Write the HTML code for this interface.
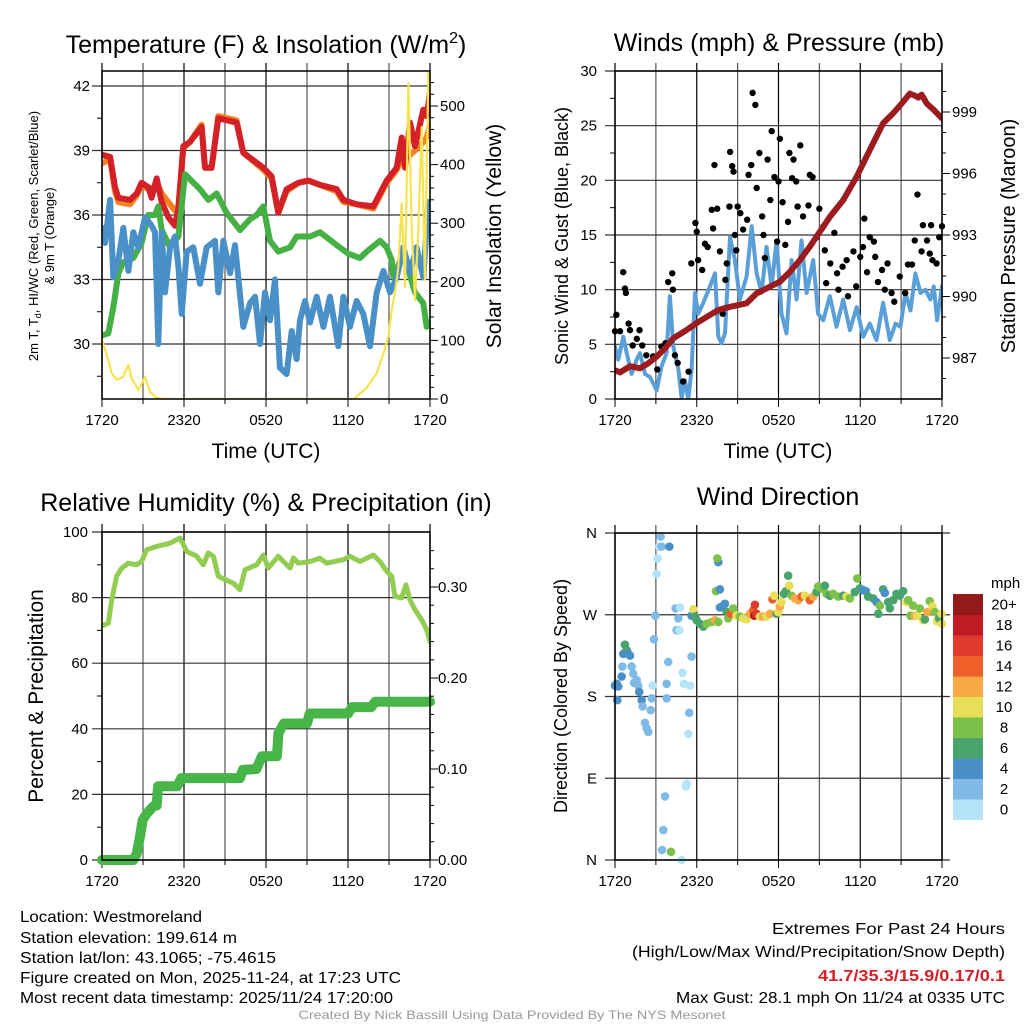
<!DOCTYPE html>
<html><head><meta charset="utf-8"><style>
html,body{margin:0;padding:0;background:#fff;}
svg{display:block;font-family:"Liberation Sans",sans-serif;}
.narrow{font-family:"Liberation Sans Narrow","Liberation Sans",sans-serif;}
</style></head><body>
<svg id="c" width="1024" height="1024" viewBox="0 0 1024 1024" xmlns="http://www.w3.org/2000/svg">
<rect width="1024" height="1024" fill="#fff"/>
<g id="layer"></g>
<!-- titles -->
<text x="266" y="53" font-size="25" text-anchor="middle">Temperature (F) &amp; Insolation (W/m<tspan font-size="16" dy="-10">2</tspan><tspan dy="10">)</tspan></text>
<text x="779" y="51" font-size="25" text-anchor="middle">Winds (mph) &amp; Pressure (mb)</text>
<text x="266" y="511" font-size="25" text-anchor="middle">Relative Humidity (%) &amp; Precipitation (in)</text>
<text x="778" y="505" font-size="25" text-anchor="middle">Wind Direction</text>
<!-- axis titles -->
<text transform="translate(38,236) rotate(-90)" font-size="13" text-anchor="middle">2m T, T<tspan font-size="9" dy="3">d</tspan><tspan dy="-3">, HI/WC (Red, Green, Scarlet/Blue)</tspan></text>
<text transform="translate(54,236) rotate(-90)" font-size="13" text-anchor="middle">&amp; 9m T (Orange)</text>
<text transform="translate(501,236) rotate(-90)" font-size="21" text-anchor="middle">Solar Insolation (Yellow)</text>
<text transform="translate(568,236) rotate(-90)" font-size="18" text-anchor="middle">Sonic Wind &amp; Gust (Blue, Black)</text>
<text transform="translate(1015,236) rotate(-90)" font-size="20" text-anchor="middle">Station Pressure (Maroon)</text>
<text transform="translate(43,696) rotate(-90)" font-size="21" text-anchor="middle">Percent &amp; Precipitation</text>
<text transform="translate(567,696) rotate(-90)" font-size="18" text-anchor="middle">Direction (Colored By Speed)</text>
<text x="266" y="458" font-size="21" text-anchor="middle">Time (UTC)</text>
<text x="778" y="458" font-size="21" text-anchor="middle">Time (UTC)</text>
<text x="991" y="588" font-size="15">mph</text>
<!-- footer -->
<g font-size="16" class="narrow">
<text x="20" y="922" textLength="182" lengthAdjust="spacingAndGlyphs">Location: Westmoreland</text>
<text x="20" y="943" textLength="217" lengthAdjust="spacingAndGlyphs">Station elevation: 199.614 m</text>
<text x="20" y="963" textLength="256" lengthAdjust="spacingAndGlyphs">Station lat/lon: 43.1065; -75.4615</text>
<text x="20" y="983" textLength="381" lengthAdjust="spacingAndGlyphs">Figure created on Mon, 2025-11-24, at 17:23 UTC</text>
<text x="20" y="1003" textLength="373" lengthAdjust="spacingAndGlyphs">Most recent data timestamp: 2025/11/24 17:20:00</text>
</g>
<g font-size="16" class="narrow" text-anchor="end">
<text x="1024" y="934" dx="-19" textLength="233" lengthAdjust="spacingAndGlyphs">Extremes For Past 24 Hours</text>
<text x="1024" y="957" dx="-19" textLength="373" lengthAdjust="spacingAndGlyphs">(High/Low/Max Wind/Precipitation/Snow Depth)</text>
<text x="1024" y="981" dx="-19" fill="#d62027" font-weight="bold" textLength="187" lengthAdjust="spacingAndGlyphs">41.7/35.3/15.9/0.17/0.1</text>
<text x="1024" y="1003" dx="-19" textLength="329" lengthAdjust="spacingAndGlyphs">Max Gust: 28.1 mph On 11/24 at 0335 UTC</text>
</g>
<text x="512" y="1019" font-size="12" class="narrow" fill="#999" text-anchor="middle" textLength="427" lengthAdjust="spacingAndGlyphs">Created By Nick Bassill Using Data Provided By The NYS Mesonet</text>
</svg>
<script>
// ---- Time axis ----
const timeTicks = ["1720","2320","0520","1120","1720"];
const tempTicks = [30,33,36,39,42];
const solarTicks = [0,100,200,300,400,500];
const windTicks = [0,5,10,15,20,25,30];
const presTicks = [987,990,993,996,999];
const rhTicks = [0,20,40,60,80,100];
const precipTicks = ["0.00","0.10","0.20","0.30"];
const dirTicks = ["N","E","S","W","N"];
// ---- Temperature panel ----
const tRed = [0,0.59,0.95,1.2,2.05,2.54,2.9,3.39,3.63,4.0,4.37,4.85,5.34,5.59,5.95,6.44,7.29,7.54,8.02,8.51,9.85,10.34,11.8,12.41,12.9,13.51,14.37,15.1,15.95,17.17,17.66,18.63,19.85,20.83,21.56,21.93,22.17,22.54,22.9,23.51,23.76,24];
const red = [38.8,38.7,37.3,36.8,36.7,37.0,37.5,37.3,36.8,37.7,36.6,35.9,35.5,36.3,39.2,39.4,40.1,38.2,38.2,40.5,40.3,38.9,38.2,37.8,36.1,37.2,37.5,37.6,37.4,37.2,36.7,36.5,36.4,37.6,38.2,39.6,38.2,40.3,39.2,40.9,40.6,41.7];
const orange = [38.4,38.6,37.1,36.6,36.5,36.9,37.4,37.2,37.2,37.5,37.0,36.6,36.2,36.4,39.1,39.4,40.2,38.2,38.2,40.6,40.4,38.9,38.1,37.7,36.1,37.1,37.5,37.6,37.4,37.1,36.6,36.5,36.3,37.5,38.1,38.6,38.6,38.8,39.0,39.4,39.6,40.2];
const tGreen = [0,0.46,0.83,1.2,1.56,2.29,2.9,3.39,3.88,4.12,4.37,4.98,5.59,6.07,7.17,7.78,8.39,9.12,10.1,10.83,11.32,11.8,12.29,12.9,13.76,14.24,15.22,15.95,17.17,18.02,18.88,19.37,20.34,20.83,21.2,21.32,22.05,22.9,23.51,23.76,24];
const green = [30.4,30.5,31.7,33.3,33.8,34.0,34.7,36.0,36.0,36.4,35.3,34.5,35.0,37.9,37.2,36.7,37.0,36.1,35.3,35.8,36.0,36.4,34.8,34.3,34.5,35.0,35.0,35.2,34.6,34.2,34.0,34.3,34.8,34.5,33.9,33.1,34.2,32.4,31.9,30.8,31.0];
const tBlue = [0,0.22,0.59,0.83,1.2,1.56,1.93,2.29,2.66,3.15,3.63,3.88,4.12,4.37,4.61,4.98,5.34,5.59,5.83,6.2,6.68,7.17,7.66,8.27,8.51,8.88,9.37,9.73,10.34,10.83,11.2,11.56,11.93,12.29,12.66,13.02,13.51,13.88,14.24,14.49,14.85,15.22,15.71,16.2,16.68,17.29,17.66,18.15,18.63,19.12,19.61,20.1,20.59,21.07,21.56,22.05,22.54,23.02,23.51,23.88,24];
const blue = [35.4,34.7,36.7,33.1,33.9,35.4,33.4,35.2,34.5,35.9,35.5,35.2,30.0,35.2,32.4,34.5,35.0,33.6,31.4,34.3,34.5,32.8,34.5,34.8,32.4,34.8,33.3,34.6,30.8,31.9,32.2,30.0,32.4,31.1,33.0,28.9,28.6,30.6,29.3,31.1,32.0,31.0,32.2,30.8,32.2,29.9,32.2,30.8,32.0,31.4,29.9,32.4,33.4,32.4,33.1,34.5,33.3,34.5,33.1,36.6,35.4];
const tSolar = [0,0.32,0.71,1.07,1.56,1.93,2.17,2.66,3.15,3.51,4.0,4.5,18.4,19.37,20.1,20.59,20.95,21.2,21.44,21.68,21.93,22.17,22.42,22.66,22.9,23.15,23.39,23.63,23.88,24];
const solar = [100,78,44,33,38,58,35,15,38,12,2,0,0,19,44,78,106,152,181,225,334,191,539,293,169,293,464,203,560,520];
// ---- Wind panel ----
const tPres = [0,0.37,1.1,1.83,2.44,3.06,3.67,4.28,5.26,5.99,6.72,7.58,8.44,9.66,10.39,11.37,12.1,12.84,13.57,14.3,15.04,15.77,16.75,17.73,18.7,19.68,20.42,21.15,21.64,22.0,22.25,22.5,22.9,23.4,24];
const pres = [986.4,986.3,986.6,986.5,986.74,987.07,987.47,987.96,988.37,988.7,989.0,989.34,989.5,989.67,990.15,990.48,990.72,991.2,991.78,992.43,993.16,993.89,994.7,995.84,997.15,998.45,998.94,999.5,999.9,999.8,999.7,999.85,999.4,999.1,998.69];
const tWind = [0,0.24,0.61,0.86,1.22,1.59,1.83,2.2,2.57,3.06,3.42,3.79,4.03,4.28,4.65,4.89,5.13,5.38,5.62,5.87,6.11,6.48,6.97,7.34,7.58,7.82,8.07,8.44,8.8,9.17,9.66,10.03,10.39,10.76,11.12,11.49,11.86,12.22,12.59,12.96,13.33,13.69,14.06,14.55,14.91,15.28,15.77,16.26,16.75,17.24,17.73,18.22,18.7,19.19,19.68,20.17,20.59,20.95,21.32,21.69,22.05,22.42,22.79,23.15,23.4,23.64,24.0];
const wind = [4.8,3.6,5.7,4.2,2.3,3.6,4.2,2.3,2.0,0.8,3.0,4.2,9.4,4.8,2.7,0.1,1.7,0,2.7,9.7,7.8,8.8,10.3,11.5,5.7,5.1,6.0,14.8,12.7,9.1,11.2,15.8,11.5,9.7,13.9,10.3,14.5,7.8,6.0,12.7,9.1,14.5,9.7,12.7,7.8,7.2,9.4,6.6,9.1,6.3,8.4,5.7,6.9,5.4,8.8,5.4,6.9,6.6,9.7,8.1,11.5,9.7,10.0,9.1,10.3,7.2,10.3];
const tGust = [0,0.1,0.37,0.6,0.73,0.8,1.0,1.1,1.3,1.6,1.8,2.0,2.3,2.8,3.1,3.4,3.7,3.9,4.2,4.25,4.4,4.6,5.0,5.4,5.6,5.9,6.0,6.1,6.4,6.6,6.8,7.1,7.2,7.3,7.5,7.7,7.9,8.1,8.2,8.4,8.45,8.6,8.7,8.8,8.9,9.0,9.2,9.4,9.7,9.8,10.0,10.1,10.3,10.4,10.6,10.8,10.9,11.0,11.2,11.4,11.5,11.7,11.9,12.0,12.1,12.3,12.5,12.7,12.8,13.0,13.1,13.3,13.4,13.6,13.8,14.2,14.3,14.5,14.8,15.0,15.3,15.4,15.5,15.8,16.1,16.3,16.4,16.7,17.0,17.1,17.5,17.7,18.0,18.2,18.3,18.5,18.7,19.0,19.1,19.3,19.6,19.8,20.0,20.3,20.5,20.9,21.3,21.5,21.8,22.0,22.2,22.5,22.6,22.9,23.1,23.2,23.3,23.6,23.8,24.0];
const gust = [6.2,7.7,6.2,11.6,10.1,9.7,6.9,6.3,4.9,5.5,6.3,4.9,4.0,3.9,2.7,4.8,5.1,10.7,11.5,10.0,4.0,3.3,1.6,2.5,12.4,16.1,15.3,12.7,11.8,14.2,13.9,17.3,15.6,21.4,17.4,13.5,7.8,10.9,12.4,17.6,22.6,21.3,20.8,15.0,13.6,17.6,17.0,15.5,16.4,20.5,21.4,28.0,26.9,19.3,22.5,16.7,15.0,12.9,21.9,18.2,24.5,20.3,14.4,19.9,23.8,18.0,14.1,16.2,22.5,20.2,21.9,19.9,17.6,23.2,16.7,17.7,20.5,20.3,14.8,17.4,15.8,13.6,10.6,12.4,15.2,11.5,10.0,12.1,12.7,9.4,13.5,10.3,13.0,13.9,16.5,11.6,14.8,14.4,13.0,10.7,11.8,10.0,12.4,9.7,8.9,11.2,9.7,12.3,12.3,14.5,18.7,13.5,15.9,14.5,13.3,15.9,12.7,12.4,14.8,15.8];
// ---- Humidity panel ----
const tRH = [0,0.46,0.71,1.07,1.44,1.93,2.54,2.9,3.27,4.0,4.98,5.71,6.2,6.93,7.41,7.78,8.15,8.51,9.0,9.61,10.1,10.46,11.32,11.8,12.17,12.9,13.27,13.76,14.0,14.37,15.22,15.95,16.44,17.66,18.15,18.88,19.85,20.34,20.83,21.2,21.44,21.93,22.24,22.54,22.9,23.39,23.76,24];
const rh = [71.4,72.2,79.3,86.5,89,90.5,90,91,94.6,95.6,96.6,98.2,94.1,92.6,90,93.6,92.6,86.5,85.5,84.4,82.4,88.5,90,93,89,92.6,91,89,92.1,90.5,91,92,90.5,91.6,92.6,91,93,91,88,86.5,80.4,79.9,83.9,79.3,76.3,73.2,70.2,66.6];
const tPrecip = [0,2.29,2.54,2.78,2.98,3.27,3.76,4.0,4.1,5.5,5.8,10.1,10.3,11.3,11.7,12.8,12.85,12.9,13.3,15.0,15.2,18.0,18.3,19.7,20.0,24.0];
const precip = [0,0,0.007,0.026,0.044,0.051,0.059,0.06,0.081,0.081,0.09,0.09,0.099,0.1,0.114,0.114,0.125,0.139,0.15,0.15,0.161,0.161,0.168,0.168,0.174,0.174];
// ---- Direction panel ----
const tDir = [0,0.12,0.24,0.17,0.49,0.61,0.73,0.86,0.98,1.1,0.54,1.22,1.34,1.39,1.59,1.71,1.78,1.96,2.03,2.2,2.32,2.44,2.62,2.69,2.76,2.86,2.96,3.06,3.13,3.25,3.35,3.42,3.99,3.67,3.55,3.45,3.79,3.79,3.91,4.11,4.45,4.52,4.65,4.77,4.72,4.89,4.96,5.06,5.21,5.26,5.38,5.5,5.45,5.62,5.62,
5.75,5.87,5.99,6.23,6.48,6.72,7.09,7.33,7.58,7.41,7.58,7.51,7.7,7.7,7.95,8.07,8.19,8.31,8.48,8.68,8.92,9.17,9.41,9.66,9.9,10.15,10.27,10.22,10.39,10.64,10.88,11.12,11.37,11.56,11.69,11.86,11.98,12.1,12.22,12.4,12.54,12.71,12.79,12.96,13.2,13.45,13.69,13.94,14.3,14.55,14.79,14.91,15.16,15.4,15.53,15.77,16.01,16.38,16.75,16.99,17.24,17.6,17.78,17.97,18.22,18.41,18.58,18.95,19.19,19.32,19.44,19.68,19.8,20.05,20.17,20.42,20.66,20.9,21.15,21.39,21.52,21.69,21.88,22.0,22.18,22.37,22.62,22.74,22.91,23.1,23.3,23.47,23.64,23.79,23.96,24.0];
const dirDeg = [192,194,191,176,202,227,237,231,227,225,213,213,205,195,198,192,185,176,169,151,145,141,165,178,192,243,269,315,332,345,356,345,345,70,33,11,194,178,218,9,277,253,266,278,253,0,206,194,81,84,139,192,162,224,269,
276,268,264,260,257,260,262,264,262,296,328,332,298,278,280,282,273,266,271,277,269,268,266,265,271,275,281,269,271,268,268,268,271,287,291,271,273,279,284,293,296,313,302,291,288,286,290,291,286,290,295,301,299,302,293,291,293,290,291,290,288,295,310,299,297,296,290,288,284,271,280,298,294,284,277,286,293,291,296,284,286,269,280,269,269,277,264,265,273,285,279,273,263,266,271,260];
const dirSpd = [5,5,5,5,5,5,7,7,5,5,3,3,3,3,3,3,5,5,3,3,3,3,3,3,1,3,3,1,1,1,3,3,5,3,3,3,3,3,3,9,3,3,3,1,1,1,1,1,1,1,1,1,3,3,5,
11,7,7,7,7,9,9,13,9,9,5,9,5,5,5,5,7,9,15,9,11,9,11,11,13,15,17,19,17,11,13,11,13,15,11,7,11,13,11,7,7,7,11,9,13,13,15,11,15,13,7,9,9,7,9,7,9,9,7,11,9,7,9,7,5,5,7,7,5,7,9,7,5,7,7,7,7,7,7,11,9,9,9,13,11,9,11,7,13,9,11,9,11,7,11,11];
const cbLabels = ["0","2","4","6","8","10","12","14","16","18","20+"];
const cbColors = ["#b5e3f8","#7fbbe6","#4a8fc7","#48a36c","#7cc24a","#e6df57","#f7a947","#ef6029","#df3a2c","#bf1c24","#931a1a"];

const NS = "http://www.w3.org/2000/svg";
const layer = document.getElementById('layer');
function mk(tag, attrs, parent){const e=document.createElementNS(NS,tag);for(const k in attrs)e.setAttribute(k,attrs[k]);(parent||layer).appendChild(e);return e;}
function linScale(d0,d1,r0,r1){return v=>r0+(v-d0)/(d1-d0)*(r1-r0);}

function frame(p, name){
  const g=mk('g',{});
  
  
  for(let h=0;h<=24;h+=3){
    const x=p.x(h);
    const gl=mk('line',{x1:x,x2:x,y1:p.t-8,y2:p.b,stroke:(h%6==0?'#000':'#555'),'stroke-width':1.2},g);
    
    
    mk('line',{x1:x,x2:x,y1:p.b,y2:p.b+(h%6==0?8:5),stroke:'#000','stroke-width':1},g);
  }
  return g;
}
function addText(x,y,s,anchor,size,name){
  const t=mk('text',{x:x,y:y,'font-size':size||15,'text-anchor':anchor||'middle'});
  t.textContent=s;
  
  
  return t;
}
function timeLabels(p){
  timeTicks.forEach((s,i)=>{addText(p.x(i*6),p.b+26,s,'middle',15,'x-tick-label');});
}
function polyline(xs,ys,sx,sy,color,w,name,clip){
  const pts=xs.map((t,i)=>sx(t).toFixed(1)+','+sy(ys[i]).toFixed(1)).join(' ');
  const pl=mk('polyline',{points:pts,fill:'none',stroke:color,'stroke-width':w,'stroke-linejoin':'round','stroke-linecap':'round'});
  if(clip)pl.setAttribute('clip-path','url(#'+clip+')');
  
  
  return pl;
}
function clipRect(id,p){
  const d=mk('clipPath',{id:id});
  mk('rect',{x:p.l,y:p.t,width:p.r-p.l,height:p.b-p.t},d);
}
function box(p){
  const r=mk('rect',{x:p.l,y:p.t,width:p.r-p.l,height:p.b-p.t,fill:'none',stroke:'#000','stroke-width':1.5});
  
  
}

// ===== Panel 1: Temperature =====
(function(){
  const p={l:102,r:430,t:71,b:399};
  p.x=linScale(0,24,p.l,p.r);
  const y=linScale(30,42,344,86);
  const ys=linScale(0,500,399,106);
  clipRect('c1',p);
  frame(p,'temperature');
  tempTicks.forEach(v=>{
    const gl=mk('line',{x1:p.l-10,x2:p.r,y1:y(v),y2:y(v),stroke:'#333','stroke-width':1.2});
    
    
    addText(p.l-12,y(v)+5,String(v),'end',15,'y-tick-label');
  });
  for(let v=28.5;v<42;v+=1.5){ if(v%3) mk('line',{x1:p.l-5,x2:p.l,y1:y(v),y2:y(v),stroke:'#000'}); }
  solarTicks.forEach(v=>{
    mk('line',{x1:p.r,x2:p.r+8,y1:ys(v),y2:ys(v),stroke:'#000'});
    addText(p.r+10,ys(v)+5,String(v),'start',15,'y2-tick-label');
  });
  for(let v=20;v<550;v+=20){ if(v%100) mk('line',{x1:p.r,x2:p.r+4,y1:ys(v),y2:ys(v),stroke:'#000'}); }
  polyline(tRed,orange,p.x,y,'#f58220',6,'orange-9m-temp-line','c1');
  polyline(tRed,red,p.x,y,'#d42027',6,'red-2m-temp-line','c1');
  polyline(tGreen,green,p.x,y,'#45b043',6,'green-dewpoint-line','c1');
  polyline(tBlue,blue,p.x,y,'#4a90c8',6,'blue-windchill-line','c1');
  polyline(tSolar,solar,p.x,ys,'#f7e24f',2.2,'yellow-solar-line','c1');
  box(p);
  timeLabels(p);
})();

// ===== Panel 2: Winds =====
(function(){
  const p={l:615,r:942,t:71,b:399};
  p.x=linScale(0,24,p.l,p.r);
  const y=linScale(0,30,399,71);
  const yp=linScale(987,999,358,112);
  clipRect('c2',p);
  frame(p,'winds');
  windTicks.forEach(v=>{
    const gl=mk('line',{x1:p.l-10,x2:p.r,y1:y(v),y2:y(v),stroke:'#333','stroke-width':1.2});
    
    
    addText(p.l-18,y(v)+5,String(v),'end',15,'y-tick-label');
  });
  for(let v=2.5;v<30;v+=5) mk('line',{x1:p.l-5,x2:p.l,y1:y(v),y2:y(v),stroke:'#000'});
  presTicks.forEach(v=>{
    mk('line',{x1:p.r,x2:p.r+8,y1:yp(v),y2:yp(v),stroke:'#000'});
    addText(p.r+10,yp(v)+5,String(v),'start',15,'y2-tick-label');
  });
  for(let v=986;v<1001;v+=1){ if((v-987)%3) mk('line',{x1:p.r,x2:p.r+4,y1:yp(v),y2:yp(v),stroke:'#000'}); }
  polyline(tWind,wind,p.x,y,'#5a9fd8',4,'blue-sonic-wind-line','c2');
  tGust.forEach((t,i)=>{
    const c=mk('circle',{cx:p.x(t),cy:y(gust[i]),r:3.2,fill:'#000'});
    
    
  });
  polyline(tPres,pres,p.x,yp,'#9b1b1f',6,'maroon-pressure-line','c2');
  box(p);
  timeLabels(p);
})();

// ===== Panel 3: Humidity =====
(function(){
  const p={l:102,r:430,t:532,b:860};
  p.x=linScale(0,24,p.l,p.r);
  const y=linScale(0,100,860,532);
  const yi=linScale(0,0.1,860,769);
  clipRect('c3',p);
  frame(p,'humidity');
  rhTicks.forEach(v=>{
    const gl=mk('line',{x1:p.l-10,x2:p.r,y1:y(v),y2:y(v),stroke:'#333','stroke-width':1.2});
    
    
    addText(p.l-14,y(v)+5,String(v),'end',15,'y-tick-label');
  });
  for(let v=10;v<100;v+=20) mk('line',{x1:p.l-5,x2:p.l,y1:y(v),y2:y(v),stroke:'#000'});
  precipTicks.forEach(s=>{
    const v=parseFloat(s);
    mk('line',{x1:p.r,x2:p.r+8,y1:yi(v),y2:yi(v),stroke:'#000'});
    addText(p.r+8,yi(v)+5,s,'start',15,'y2-tick-label');
  });
  for(let v=0.02;v<0.36;v+=0.02){ if(Math.round(v*100)%10) mk('line',{x1:p.r,x2:p.r+4,y1:yi(v),y2:yi(v),stroke:'#000'}); }
  polyline(tRH,rh,p.x,y,'#92cd52',5,'humidity-line','c3');
  polyline(tPrecip,precip,p.x,yi,'#47b547',10,'precipitation-line',null);
  box(p);
  timeLabels(p);
})();

// ===== Panel 4: Wind direction =====
(function(){
  const p={l:615,r:942,t:533,b:860};
  p.x=linScale(0,24,p.l,p.r);
  const y=linScale(0,360,860,533);
  frame(p,'direction');
  dirTicks.forEach((s,i)=>{
    const v=[0,90,180,270,360][i];
    const gl=mk('line',{x1:p.l-10,x2:p.r+8,y1:y(v),y2:y(v),stroke:'#333','stroke-width':1.2});
    
    
    addText(p.l-18,y(v)+5,s,'end',15,'y-tick-label');
  });
  tDir.forEach((t,i)=>{
    const lvl=Math.min(10,Math.floor(dirSpd[i]/2));
    const c=mk('circle',{cx:p.x(t),cy:y(dirDeg[i]),r:4.3,fill:cbColors[lvl]});
    
    
  });
  box(p);
  timeLabels(p);
  const cbTop=594, cbH=20.5;
  cbColors.forEach((col,i)=>{
    const yy=cbTop+(10-i)*cbH;
    const r=mk('rect',{x:953,y:yy,width:30,height:cbH+0.5,fill:col});
    
    
    addText(1004,yy+cbH/2+5,cbLabels[i],'middle',15,'colorbar-label');
  });
})();
</script>
</body></html>
